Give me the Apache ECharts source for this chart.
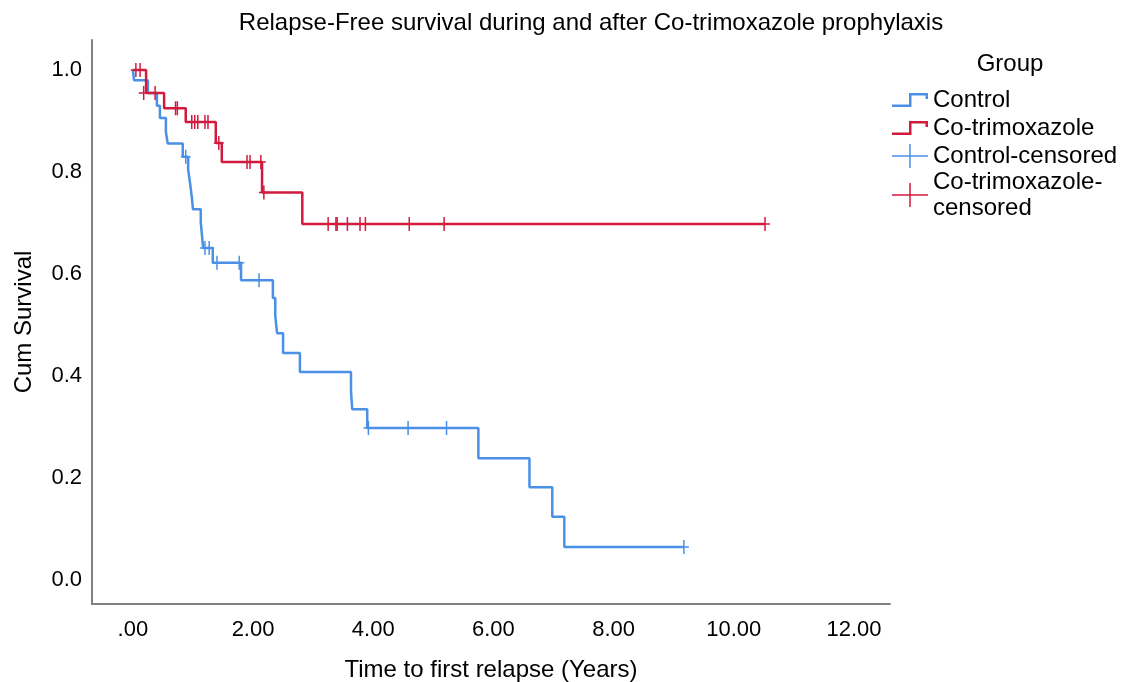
<!DOCTYPE html>
<html>
<head>
<meta charset="utf-8">
<script src="https://cdn.jsdelivr.net/npm/echarts@6/dist/echarts.min.js"></script>
<style>
html,body{margin:0;padding:0;background:#fff;}
#chart{width:1128px;height:682px;}
</style>
</head>
<body>
<div id="chart"></div>
<script>
// ---- Data ----
const chartTitle = 'Relapse-Free survival during and after Co-trimoxazole prophylaxis';
const xAxisName = 'Time to first relapse (Years)';
const yAxisName = 'Cum Survival';
const legendTitle = 'Group';
const seriesNames = ['Control', 'Co-trimoxazole', 'Control-censored', 'Co-trimoxazole-censored'];

const xTickValues = [0, 2, 4, 6, 8, 10, 12];
const yTickValues = [0, 0.2, 0.4, 0.6, 0.8, 1.0];

// Control step curve
const controlTimes = [0, 0.02, 0.25, 0.4, 0.45, 0.55, 0.58, 0.83, 0.92, 0.95, 0.98, 1.0, 1.13, 1.15, 1.17, 1.33, 1.8, 2.33, 2.37, 2.4, 2.5, 2.78, 3.63, 3.65, 3.9, 5.75, 6.6, 6.98, 7.18, 9.17];
const controlSurv  = [1.0, 0.98, 0.955, 0.93, 0.906, 0.878, 0.856, 0.83, 0.805, 0.78, 0.752, 0.727, 0.702, 0.676, 0.651, 0.622, 0.588, 0.553, 0.518, 0.484, 0.445, 0.408, 0.371, 0.335, 0.298, 0.239, 0.182, 0.124, 0.065, 0.065];
// Control censored marks
const controlCensTimes = [0.88, 1.2, 1.27, 1.4, 1.77, 2.1, 3.92, 4.58, 5.22, 9.17];
const controlCensSurv  = [0.83, 0.651, 0.651, 0.622, 0.622, 0.588, 0.298, 0.298, 0.298, 0.065];

// Co-trimoxazole step curve
const cotrimTimes = [0, 0.22, 0.52, 0.88, 1.38, 1.48, 2.15, 2.82, 10.52];
const cotrimSurv  = [1.0, 0.955, 0.925, 0.898, 0.857, 0.82, 0.76, 0.698, 0.698];
// Co-trimoxazole censored marks
const cotrimCensTimes = [0.05, 0.12, 0.18, 0.37, 0.71, 0.74, 0.98, 1.03, 1.08, 1.2, 1.25, 1.43, 1.9, 1.95, 2.13, 2.18, 3.25, 3.38, 3.4, 3.57, 3.78, 3.87, 4.6, 5.18, 10.52];
const cotrimCensSurv  = [1.0, 1.0, 0.955, 0.955, 0.925, 0.925, 0.898, 0.898, 0.898, 0.898, 0.898, 0.857, 0.82, 0.82, 0.82, 0.76, 0.698, 0.698, 0.698, 0.698, 0.698, 0.698, 0.698, 0.698, 0.698];

// ---- Build chart ----
const zip = (a, b) => a.map((v, i) => [v, b[i]]);
const BLUE = '#4a90e6';
const RED = '#d21a3f';
const FONT = "'Liberation Sans', Arial, sans-serif";
const plusPath = 'path://M0,6.25 H10 V7.75 H0 Z M4.25,0 H5.75 V14 H4.25 Z';
const stepIcon = 'path://M0,11.5 H17 V0 H36 V6 H33.5 V2.5 H19.5 V14 H0 Z';
const plusIcon = 'path://M0,11.25 H36 V12.75 H0 Z M17.25,0 H18.75 V24 H17.25 Z';

const chart = echarts.init(document.getElementById('chart'), null, {renderer: 'canvas'});
chart.setOption({
  animation: false,
  backgroundColor: '#fff',
  title: [
    {text: chartTitle, left: 586, top: 6, textAlign: 'center',
     textStyle: {fontFamily: FONT, fontSize: 24, fontWeight: 'normal', color: '#000'}},
    {text: legendTitle, left: 1005, top: 47, textAlign: 'center',
     textStyle: {fontFamily: FONT, fontSize: 24, fontWeight: 'normal', color: '#000'}}
  ],
  grid: {left: 92, right: 238, top: 40, bottom: 78, containLabel: false, outerBoundsMode: 'none'},
  xAxis: {
    type: 'value', min: -0.68, max: 12.6,
    name: xAxisName, nameLocation: 'middle', nameGap: 54,
    nameTextStyle: {fontFamily: FONT, fontSize: 24, color: '#000'},
    axisLine: {show: true, onZero: false, lineStyle: {color: '#808080', width: 2}},
    axisTick: {show: false},
    splitLine: {show: false},
    axisLabel: {
      customValues: xTickValues, margin: 15,
      fontFamily: FONT, fontSize: 22, color: '#000',
      formatter: v => (v === 0 ? '.00' : v.toFixed(2))
    }
  },
  yAxis: {
    type: 'value', min: -0.047, max: 1.059,
    name: yAxisName, nameLocation: 'middle', nameGap: 56, nameRotate: 90,
    nameTextStyle: {fontFamily: FONT, fontSize: 24, color: '#000'},
    axisLine: {show: true, onZero: false, lineStyle: {color: '#808080', width: 2}},
    axisTick: {show: false},
    splitLine: {show: false},
    axisLabel: {
      customValues: yTickValues, margin: 10,
      fontFamily: FONT, fontSize: 22, color: '#000',
      formatter: v => v.toFixed(1)
    }
  },
  legend: [
    {
      orient: 'vertical', left: 887, top: 82, itemWidth: 36, itemHeight: 14, itemGap: 2,
      symbolKeepAspect: false,
      itemStyle: {borderWidth: 0},
      textStyle: {fontFamily: FONT, fontSize: 24, color: '#000', lineHeight: 26},
      data: [{name: seriesNames[0], icon: stepIcon}, {name: seriesNames[1], icon: stepIcon}]
    },
    {
      orient: 'vertical', left: 887, top: 138, itemWidth: 36, itemHeight: 24, itemGap: 0,
      symbolKeepAspect: false,
      itemStyle: {borderWidth: 0},
      textStyle: {fontFamily: FONT, fontSize: 24, color: '#000', lineHeight: 26},
      formatter: n => (n === seriesNames[3] ? 'Co-trimoxazole-\ncensored' : n),
      data: [{name: seriesNames[2], icon: plusIcon}, {name: seriesNames[3], icon: plusIcon}]
    }
  ],
  series: [
    {name: seriesNames[0], type: 'line', step: 'end', data: zip(controlTimes, controlSurv),
     showSymbol: false, symbol: 'none', color: BLUE, lineStyle: {color: BLUE, width: 2.5}, z: 2},
    {name: seriesNames[1], type: 'line', step: 'end', data: zip(cotrimTimes, cotrimSurv),
     showSymbol: false, symbol: 'none', color: RED, lineStyle: {color: RED, width: 2.5}, z: 2},
    {name: seriesNames[2], type: 'scatter', data: zip(controlCensTimes, controlCensSurv),
     symbol: plusPath, symbolSize: [10, 14], color: BLUE, itemStyle: {color: BLUE, opacity: 1}, z: 3},
    {name: seriesNames[3], type: 'scatter', data: zip(cotrimCensTimes, cotrimCensSurv),
     symbol: plusPath, symbolSize: [10, 14], color: RED, itemStyle: {color: RED, opacity: 1}, z: 3}
  ]
});
</script>
</body>
</html>
